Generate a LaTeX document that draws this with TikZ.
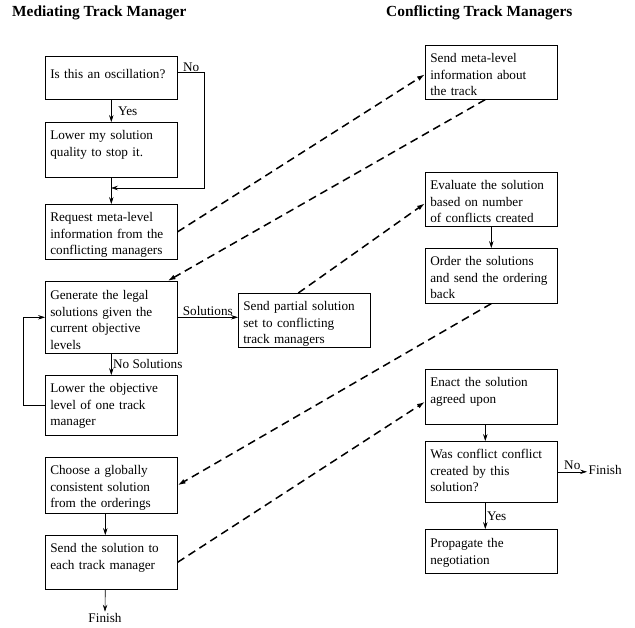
\documentclass[tikz,border=0pt]{standalone}
\usepackage{fontspec}
\setmainfont{Liberation Serif}
\usetikzlibrary{arrows.meta}

\tikzstyle{box} = [draw, line width=0.6pt, anchor=north west, text width=122pt, align=left, inner xsep=5pt, inner ysep=0pt, text height=17pt, font=\fontsize{13.2}{16.7}\selectfont]
\tikzstyle{flow} = [-{Stealth[length=7pt,width=4.5pt,inset=2.5pt]}, line width=0.6pt]
\tikzstyle{msg} = [-{Latex[length=8pt,width=5pt]}, line width=1.5pt, dash pattern=on 8pt off 5pt]
\tikzstyle{lbl} = [font=\fontsize{13.2}{16.7}\selectfont, inner sep=1.5pt]
\tikzstyle{title} = [font=\fontsize{15.4}{18}\selectfont\bfseries, anchor=west, inner sep=0pt]

\begin{document}
\begin{tikzpicture}[x=1pt, y=-1pt]
\useasboundingbox (0,0) rectangle (635,627);
\node[title] (tmed) at (12,13) {Mediating Track Manager};
\node[title] (tcon) at (386,13) {Conflicting Track Managers};

\node[box, text height=22pt, text depth=21pt] (osc) at (45,56) {Is this an oscillation?};
\node[box, text depth=38pt] (lowq) at (45,122) {Lower my solution\\quality to stop it.};
\node[box, text depth=38pt] (req) at (45,204) {Request meta-level\\information from the\\conflicting managers};
\node[box, text height=18pt, text depth=54pt] (gen) at (45,281) {Generate the legal\\solutions given the\\current objective\\levels};
\node[box, text depth=43pt] (lowobj) at (45,375) {Lower the objective\\level of one track\\manager};
\node[box, text depth=37pt] (part) at (238,293) {Send partial solution\\set to conflicting\\track managers};
\node[box, text depth=39pt] (cho) at (45,457) {Choose a globally\\consistent solution\\from the orderings};
\node[box, text depth=37pt] (snd) at (45,535) {Send the solution to\\each track manager};
\node[lbl] (fin1) at (105,618) {Finish};

\node[box, text depth=37pt] (meta) at (425,45) {Send meta-level\\information about\\the track};
\node[box, text depth=37pt] (eval) at (425,172) {Evaluate the solution\\based on number\\of conflicts created};
\node[box, text depth=38pt] (ord) at (425,248) {Order the solutions\\and send the ordering\\back};
\node[box, text depth=38pt] (enact) at (425,369) {Enact the solution\\agreed upon};
\node[box, text depth=44pt] (conf) at (425,441) {Was conflict conflict\\created by this\\solution?};
\node[box, text height=18pt, text depth=26pt] (prop) at (425,529) {Propagate the\\negotiation};
\node[lbl, anchor=west] (fin2) at (587,470) {Finish};

\coordinate (merge) at (111,188);
\draw[flow] (osc.south) -- node[lbl, right=5pt] (yes1) {Yes} (lowq.north);
\draw[flow] (lowq.south) -- (req.north);
\draw[flow] ([yshift=-16pt]osc.north east) -- node[lbl, above, inner sep=0.5pt] (no1) {No} ++(27,0) |- (merge);
\draw[flow] (gen.south) -- node[lbl, right] (nosol) {No Solutions} (lowobj.north);
\draw[flow] (lowobj.west) -- ++(-22,0) |- (gen.west);
\draw[flow] (gen.east) -- node[lbl, above] (sol) {Solutions} (gen.east -| part.west);
\draw[flow] ([xshift=-6pt]cho.south) -- ([xshift=-6pt]snd.north);
\draw[flow] ([xshift=-6pt]snd.south) -- (fin1.north);

\draw[flow] (eval.south) -- (ord.north);
\draw[flow] ([xshift=-6pt]enact.south) -- ([xshift=-6pt]conf.north);
\draw[flow] ([xshift=-6pt]conf.south) -- node[lbl, right] (yes2) {Yes} ([xshift=-6pt]prop.north);
\draw[flow] (conf.east) -- node[lbl, above] (no2) {No} (conf.east -| fin2.west);

\draw[msg] (req.east) -- ([yshift=-2pt]meta.west);
\draw[msg] ([xshift=-6pt]meta.south) -- ([xshift=-10pt]gen.north east);
\draw[msg] ([xshift=-6pt]part.north) -- ([yshift=-4pt]eval.west);
\draw[msg] (ord.south) -- (cho.east);
\draw[msg] (snd.east) -- ([yshift=-5pt]enact.west);
\end{tikzpicture}
\end{document}
